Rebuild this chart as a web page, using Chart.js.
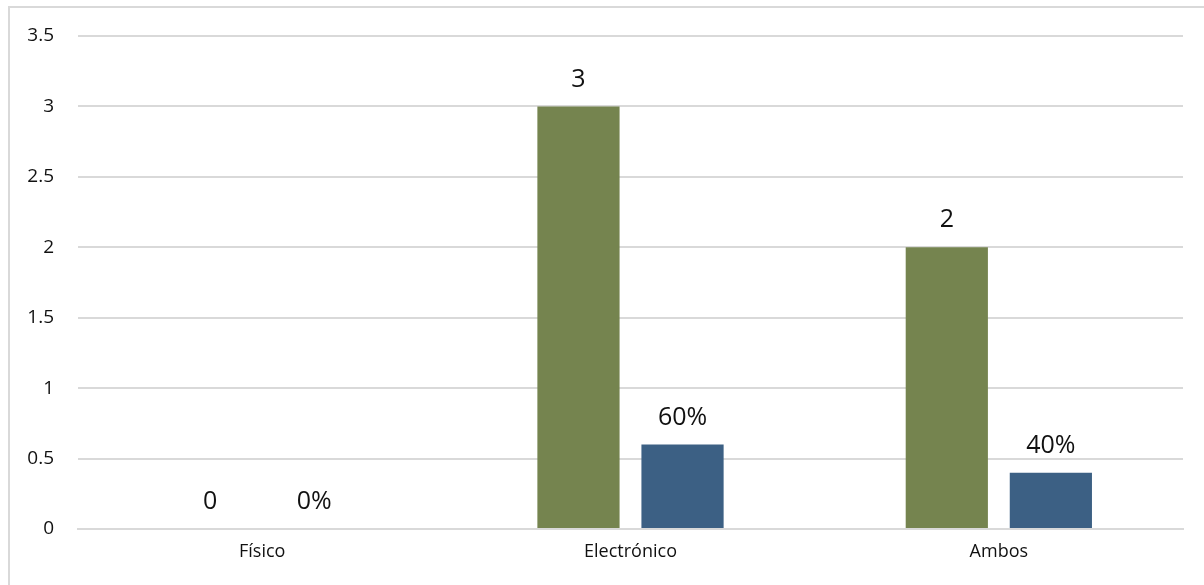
<!DOCTYPE html>
<html>
<head>
<meta charset="utf-8">
<script src="https://cdn.jsdelivr.net/npm/chart.js@4"></script>
<style>
  html, body { margin: 0; padding: 0; background: #fff; }
  #wrap { position: relative; width: 1204px; height: 585px; overflow: hidden; }
  #frame {
    position: absolute; left: 8px; top: 6px; width: 1300px; height: 700px;
    border-left: 2px solid #d9d9d9; border-top: 2px solid #d9d9d9;
  }
  canvas { position: absolute; left: 0; top: 0; }
</style>
</head>
<body>
<div id="wrap">
  <div id="frame"></div>
  <canvas id="chart" width="1204" height="585"></canvas>
</div>
<script>
// Categorías y valores
const categorias = ["Físico", "Electrónico", "Ambos"];
const cantidades = [0, 3, 2];
const porcentajes = [0, 0.6, 0.4];
const ticksY = [0, 0.5, 1, 1.5, 2, 2.5, 3, 3.5];

const FUENTE = "'Open Sans', sans-serif";

// Etiquetas de valor encima de cada barra
const etiquetasValor = {
  id: "etiquetasValor",
  afterDatasetsDraw(chart) {
    const ctx = chart.ctx;
    ctx.save();
    ctx.font = "25px " + FUENTE;
    ctx.fillStyle = "#111";
    ctx.textAlign = "center";
    ctx.textBaseline = "middle";
    chart.data.datasets.forEach((ds, i) => {
      chart.getDatasetMeta(i).data.forEach((bar, j) => {
        const v = ds.data[j];
        const txt = ds.esPorcentaje ? Math.round(v * 100) + "%" : String(v);
        ctx.fillText(txt, bar.x, bar.y - 27);
      });
    });
    ctx.restore();
  },
};

const ctx = document.getElementById("chart").getContext("2d");
new Chart(ctx, {
  type: "bar",
  data: {
    labels: categorias,
    datasets: [
      {
        label: "Cantidad",
        data: cantidades,
        backgroundColor: "#75844F",
        categoryPercentage: 0.565,
        barPercentage: 0.79,
      },
      {
        label: "Porcentaje",
        data: porcentajes,
        esPorcentaje: true,
        backgroundColor: "#3C6084",
        categoryPercentage: 0.565,
        barPercentage: 0.79,
      },
    ],
  },
  options: {
    responsive: false,
    animation: false,
    layout: { padding: { top: 36, right: 21, bottom: 0, left: 0 } },
    plugins: { legend: { display: false }, tooltip: { enabled: false } },
    scales: {
      x: {
        grid: { display: false, drawTicks: false },
        border: { display: true, color: "#d9d9d9", width: 2 },
        ticks: { color: "#111", font: { family: FUENTE, size: 18 }, padding: 12 },
        afterFit: (s) => { s.height = 56; },
      },
      y: {
        min: 0,
        max: 3.5,
        afterBuildTicks: (s) => { s.ticks = ticksY.map((v) => ({ value: v })); },
        grid: { color: "#d9d9d9", lineWidth: 2, drawTicks: false },
        border: { display: false },
        ticks: {
          color: "#111",
          font: { family: FUENTE, size: 19 },
          padding: 24,
          callback: (v) => String(v),
        },
        afterFit: (s) => { s.width = 78; },
      },
    },
  },
  plugins: [etiquetasValor],
});
</script>
</body>
</html>
